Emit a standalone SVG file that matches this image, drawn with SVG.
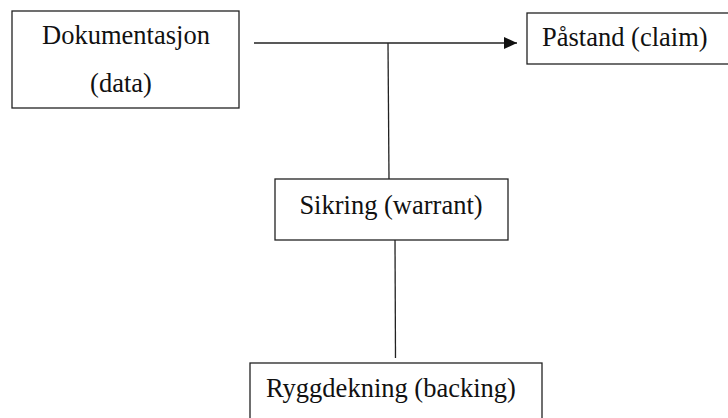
<svg xmlns="http://www.w3.org/2000/svg" width="728" height="418" viewBox="0 0 728 418">
<style>
.box{fill:#fff;stroke:#222;stroke-width:1.3}
.t{font-family:"Liberation Serif","Times New Roman",serif;font-size:26.5px;fill:#111}
.c{text-anchor:middle}
.ln{stroke:#222;stroke-width:1.3;fill:none}
</style>
<defs>
<marker id="ah" markerWidth="14" markerHeight="12" refX="13" refY="6" orient="auto" markerUnits="userSpaceOnUse">
<path d="M0,0 L13,6 L0,12 Z" fill="#111"/>
</marker>
</defs>
<rect width="728" height="418" fill="#fff"/>
<g id="connectors">
<line class="ln" x1="254" y1="43" x2="517" y2="43" marker-end="url(#ah)"/>
<line class="ln" x1="388" y1="43" x2="389" y2="179"/>
<line class="ln" x1="395" y1="240" x2="395.5" y2="358"/>
</g>
<g id="data">
<rect class="box" x="12" y="11" width="227" height="97"/>
<text class="t c" x="126" y="44">Dokumentasjon</text>
<text class="t c" x="121" y="92">(data)</text>
</g>
<g id="claim">
<rect class="box" x="527" y="13" width="210" height="51"/>
<text class="t" x="542" y="46">Påstand (claim)</text>
</g>
<g id="warrant">
<rect class="box" x="275" y="179" width="233" height="61"/>
<text class="t c" x="391" y="214">Sikring (warrant)</text>
</g>
<g id="backing">
<rect class="box" x="250" y="363" width="292" height="70"/>
<text class="t" x="266" y="397">Ryggdekning (backing)</text>
</g>
</svg>
